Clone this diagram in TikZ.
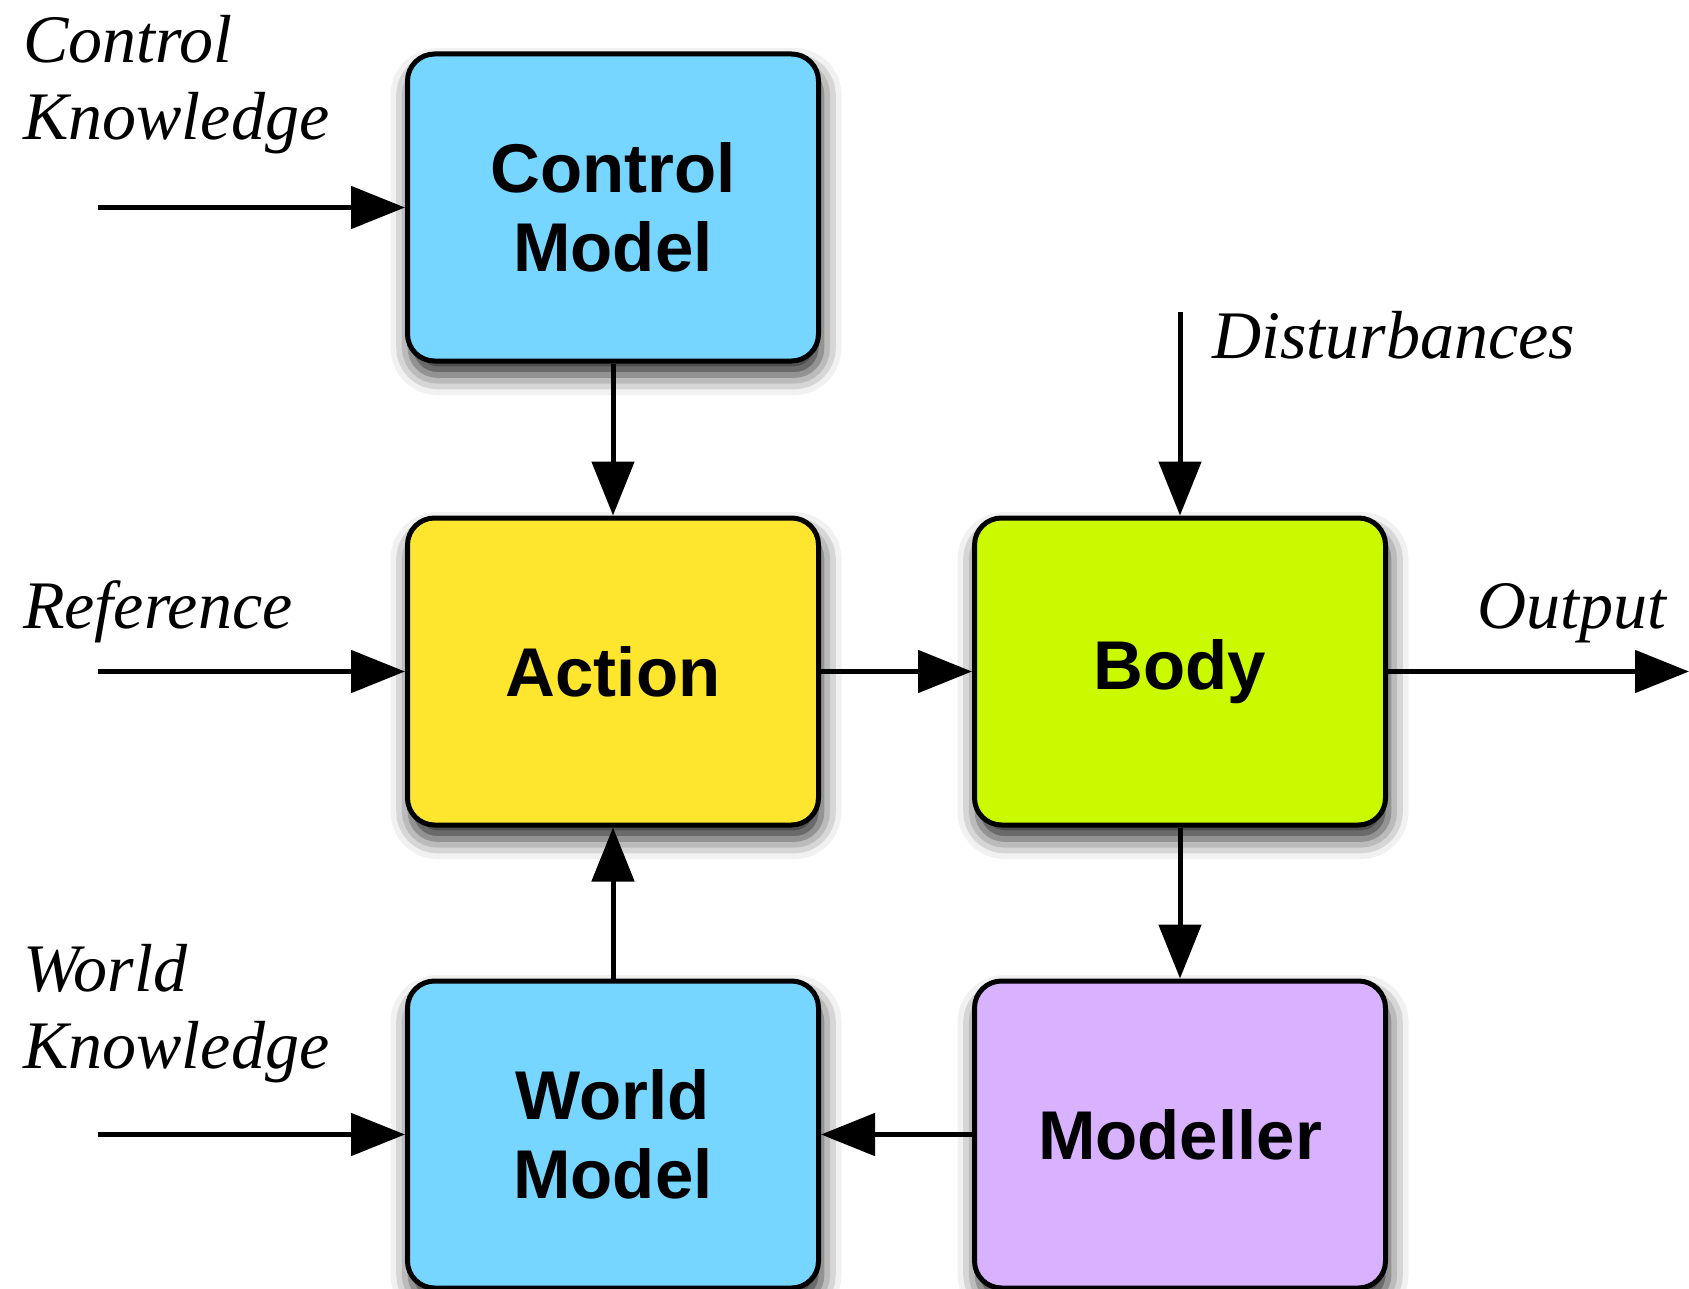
\documentclass[tikz,border=0pt]{standalone}
\usepackage{fontspec}
\setmainfont{Liberation Serif}
\newfontfamily\boxfont{Liberation Sans}
\usetikzlibrary{arrows.meta,shadows.blur}

\definecolor{modelblue}{RGB}{118,214,255}
\definecolor{actionyellow}{RGB}{255,230,46}
\definecolor{bodygreen}{RGB}{203,250,0}
\definecolor{modellerviolet}{RGB}{217,178,255}

\begin{document}
\begin{tikzpicture}[x=1pt,y=-1pt,
  block/.style={draw=black, line width=5pt, rounded corners=27pt,
    minimum width=411pt, minimum height=307pt, align=center, inner sep=0pt,
    font=\boxfont\bfseries\fontsize{69}{79}\selectfont,
    blur shadow={shadow xshift=3pt, shadow yshift=-14pt,
      shadow blur radius=20pt, shadow opacity=85}},
  signal/.style={font=\itshape\fontsize{68}{77}\selectfont, align=left,
    inner sep=0pt, anchor=base west},
  flow/.style={line width=5pt, -{Triangle[length=54pt,width=42pt]}}]

  \useasboundingbox (0,0) rectangle (1689,1289);

  % blocks of the loop
  \node[block, fill=modelblue]      (cm)   at (613,207.5)   {Control\\Model};
  \node[block, fill=actionyellow]   (act)  at (613,671.5)   {Action};
  \node[block, fill=bodygreen]      (body) at (1180,671.5)  {Body};
  \node[block, fill=modelblue]      (wm)   at (613,1134.5)  {World\\Model};
  \node[block, fill=modellerviolet] (mod)  at (1180,1134.5) {Modeller};

  % free ends of the external signals
  \coordinate (ckin)   at (98,207.5);
  \coordinate (refin)  at (98,671.5);
  \coordinate (wkin)   at (98,1134.5);
  \coordinate (distin) at (1180,312);
  \coordinate (outend) at (1689,671.5);

  % signal names (base anchor sits on the last line)
  \node[signal] (cklabel)   at (23,140)   {Control\\Knowledge};
  \node[signal] (reflabel)  at (23,628)   {Reference};
  \node[signal] (wklabel)   at (23,1068)  {World\\Knowledge};
  \node[signal] (distlabel) at (1212,358) {Disturbances};
  \node[signal] (outlabel)  at (1477,628) {Output};

  % connections
  \draw[flow] (ckin) -- (cm.west);
  \draw[flow] (refin) -- (act.west);
  \draw[flow] (wkin) -- (wm.west);
  \draw[flow] (cm.south) -- (act.north);
  \draw[flow] (act.east) -- (body.west);
  \draw[flow] (distin) -- (body.north);
  \draw[flow] (body.east) -- (outend);
  \draw[flow] (body.south) -- (mod.north);
  \draw[flow] (mod.west) -- (wm.east);
  \draw[flow] (wm.north) -- (act.south);
\end{tikzpicture}
\end{document}
